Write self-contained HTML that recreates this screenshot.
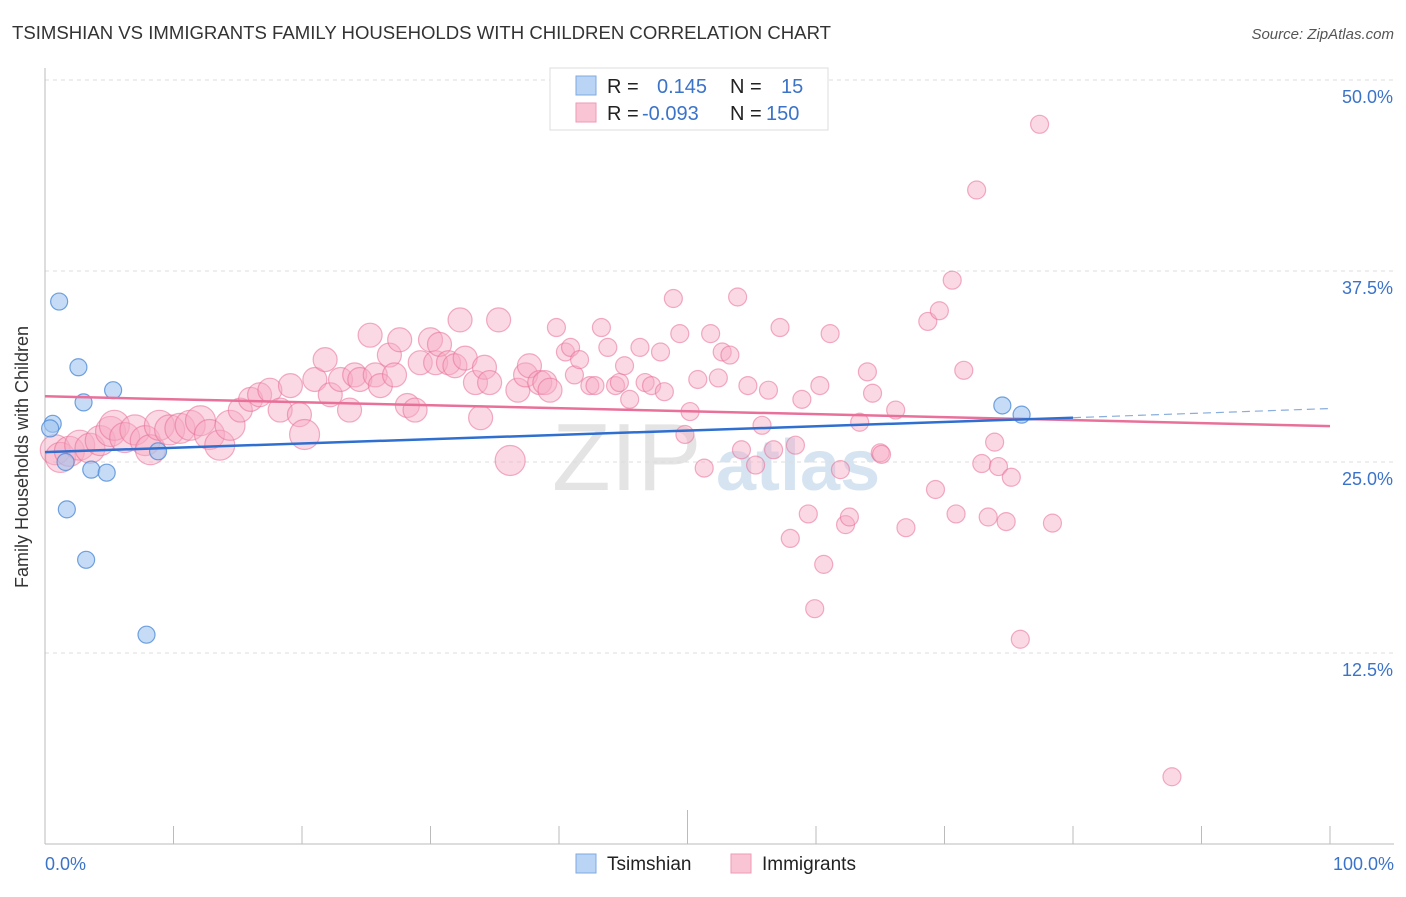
<!DOCTYPE html>
<html><head><meta charset="utf-8"><style>
body{margin:0;background:#fff;font-family:"Liberation Sans",sans-serif}
svg text{font-family:"Liberation Sans",sans-serif}
</style></head><body>
<svg id="c" width="1406" height="892" xmlns="http://www.w3.org/2000/svg">
<text x="12" y="39" font-size="18" fill="#333" textLength="819" lengthAdjust="spacingAndGlyphs">TSIMSHIAN VS IMMIGRANTS FAMILY HOUSEHOLDS WITH CHILDREN CORRELATION CHART</text>
<text x="1394" y="39" font-size="15" fill="#555" font-style="italic" text-anchor="end">Source: ZipAtlas.com</text>
<g>
<text x="552" y="490" font-size="96" fill="#e4e4e4" font-family="Liberation Serif,serif">ZIP</text>
<text x="716" y="490" font-size="72" fill="#d6e4f2" font-weight="bold">atlas</text>
</g>
<g id="grid"></g><g id="axes"></g><g id="pink"></g><g id="blue"></g><g id="lines"></g>
<text x="28" y="457" font-size="18" fill="#333" text-anchor="middle" transform="rotate(-90 28 457)">Family Households with Children</text>
<text x="45" y="870" font-size="18" fill="#3b73c9">0.0%</text>
<text x="1394" y="870" font-size="18" fill="#3b73c9" text-anchor="end">100.0%</text>
<g>
<rect x="550" y="68" width="278" height="62" fill="#fff" stroke="#ddd"/>
<rect x="576" y="76" width="20" height="19" fill="#b9d4f5" stroke="#7fa9e0"/>
<rect x="576" y="103" width="20" height="19" fill="#f9c5d5" stroke="#ee9ab5"/>
<text x="607" y="93" font-size="20" fill="#222">R = <tspan fill="#3b73c9" x="657">0.145</tspan><tspan x="730" fill="#222">N = </tspan><tspan fill="#3b73c9" x="781">15</tspan></text>
<text x="607" y="120" font-size="20" fill="#222">R = <tspan fill="#3b73c9" x="642">-0.093</tspan><tspan x="730" fill="#222">N = </tspan><tspan fill="#3b73c9" x="766">150</tspan></text>
</g>
<g>
<rect x="576" y="854" width="20" height="19" fill="#b9d4f5" stroke="#7fa9e0"/>
<text x="607" y="870" font-size="19" fill="#222">Tsimshian</text>
<rect x="731" y="854" width="20" height="19" fill="#f9c5d5" stroke="#ee9ab5"/>
<text x="762" y="870" font-size="19" fill="#222">Immigrants</text>
</g>
</svg>
<script>
const yTicks=[12.5,25,37.5,50];
const yTickLabels=["12.5%","25.0%","37.5%","50.0%"];
const xTicks=[0,10,20,30,40,50,60,70,80,90,100];
const blueX=[1.1,2.6,5.3,3.0,0.6,0.4,1.6,3.6,4.8,1.7,3.2,7.9,8.8,74.5,76.0];
const blueY=[35.5,31.2,29.7,28.9,27.5,27.2,25.0,24.5,24.3,21.9,18.6,13.7,25.7,28.7,28.1];
const pinkX=[0.8,1.2,1.9,2.7,3.5,4.3,5.1,5.4,6.2,7.0,7.8,8.2,8.9,9.7,10.5,11.3,12.1,12.8,13.6,14.4,15.2,16.0,16.7,17.5,18.3,19.1,19.8,20.2,21.0,21.8,22.2,23.0,23.7,24.1,24.5,25.3,25.7,26.1,26.8,27.2,27.6,28.2,28.8,29.2,30.0,30.4,30.7,31.4,31.9,32.3,32.7,33.5,33.9,34.2,34.6,35.3,36.2,36.8,37.4,37.7,38.5,38.9,39.3,39.8,40.5,40.9,41.2,41.6,42.4,42.8,43.3,43.8,44.4,44.7,45.1,45.5,46.3,46.7,47.2,47.9,48.2,48.9,49.4,49.8,50.2,50.8,51.3,51.8,52.4,52.7,53.3,53.9,54.2,54.7,55.3,55.8,56.3,56.7,57.2,58.0,58.4,58.9,59.4,59.9,60.3,60.6,61.1,61.9,62.3,62.6,63.4,64.0,64.4,65.0,65.1,66.2,67.0,68.7,69.3,69.6,70.6,70.9,71.5,72.5,72.9,73.4,73.9,74.2,74.8,75.2,75.9,77.4,78.4,87.7];
const pinkY=[25.8,25.3,25.7,26.1,25.9,26.4,27.0,27.4,26.6,27.1,26.4,25.8,27.4,27.1,27.2,27.4,27.7,26.8,26.1,27.4,28.4,29.1,29.4,29.7,28.4,30.0,28.1,26.8,30.4,31.7,29.4,30.4,28.4,30.7,30.4,33.3,30.7,30.0,32.0,30.7,33.0,28.7,28.4,31.5,33.0,31.5,32.7,31.5,31.3,34.3,31.8,30.2,27.9,31.2,30.2,34.3,25.1,29.7,30.7,31.3,30.2,30.2,29.7,33.8,32.2,32.5,30.7,31.7,30.0,30.0,33.8,32.5,30.0,30.2,31.3,29.1,32.5,30.2,30.0,32.2,29.6,35.7,33.4,26.8,28.3,30.4,24.6,33.4,30.5,32.2,32.0,35.8,25.8,30.0,24.8,27.4,29.7,25.8,33.8,20.0,26.1,29.1,21.6,15.4,30.0,18.3,33.4,24.5,20.9,21.4,27.6,30.9,29.5,25.6,25.5,28.4,20.7,34.2,23.2,34.9,36.9,21.6,31.0,42.8,24.9,21.4,26.3,24.7,21.1,24.0,13.4,47.1,21.0,4.4];
const pinkSize=[3,3,3,3,3,3,3,3,3,3,3,3,3,3,3,3,3,3,3,3,2,2,2,2,2,2,2,3,2,2,2,2,2,2,2,2,2,2,2,2,2,2,2,2,2,2,2,2,2,2,2,2,2,2,2,2,3,2,2,2,2,2,2,1,1,1,1,1,1,1,1,1,1,1,1,1,1,1,1,1,1,1,1,1,1,1,1,1,1,1,1,1,1,1,1,1,1,1,1,1,1,1,1,1,1,1,1,1,1,1,1,1,1,1,1,1,1,1,1,1,1,1,1,1,1,1,1,1,1,1,1,1,1,1];
const blueTrend=[[0,25.65],[80,27.9]], blueTrendExt=[[80,27.9],[100,28.5]];
const pinkTrend=[[0,29.3],[100,27.35]];
const X=v=>45+v*12.85, Y=v=>844-v*15.28;
const NS='http://www.w3.org/2000/svg';
function mk(p,t,a){const e=document.createElementNS(NS,t);for(const k in a)e.setAttribute(k,a[k]);p.appendChild(e);return e;}
const grid=document.getElementById('grid'),axes=document.getElementById('axes');
yTicks.forEach((t,i)=>{
 const l=mk(grid,'line',{x1:45,x2:1394,y1:Y(t),y2:Y(t),stroke:'#ddd','stroke-dasharray':'4 4'});
 
 
 const tx=mk(grid,'text',{x:1393,y:Y(t)+23,'font-size':18,fill:'#3b73c9','text-anchor':'end'});
 tx.textContent=yTickLabels[i];
 
 
});
const ya=mk(axes,'line',{x1:45,x2:45,y1:68,y2:844,stroke:'#bbb'});


const xa=mk(axes,'line',{x1:45,x2:1394,y1:844,y2:844,stroke:'#bbb'});


xTicks.forEach(t=>{
 const l=mk(axes,'line',{x1:X(t),x2:X(t),y1:t===50?810:826,y2:844,stroke:'#bbb'});
 
 
});
const pg=document.getElementById('pink');
pinkX.forEach((x,i)=>{
 const r=[0,9,12,15][pinkSize[i]];
 const c=mk(pg,'circle',{cx:X(x),cy:Y(pinkY[i]),r:r,fill:'rgba(246,170,195,0.45)',stroke:'rgba(232,110,150,0.55)','stroke-width':1.2});
 
 
});
const bg=document.getElementById('blue');
blueX.forEach((x,i)=>{
 const c=mk(bg,'circle',{cx:X(x),cy:Y(blueY[i]),r:8.5,fill:'rgba(160,196,240,0.6)',stroke:'rgba(80,140,215,0.8)','stroke-width':1.2});
 
 
});
const lg=document.getElementById('lines');
const pl=mk(lg,'line',{x1:X(pinkTrend[0][0]),y1:Y(pinkTrend[0][1]),x2:X(pinkTrend[1][0]),y2:Y(pinkTrend[1][1]),stroke:'#e8709a','stroke-width':2.5});


const bl=mk(lg,'line',{x1:X(blueTrend[0][0]),y1:Y(blueTrend[0][1]),x2:X(blueTrend[1][0]),y2:Y(blueTrend[1][1]),stroke:'#2f6fd0','stroke-width':2.5});


const bd=mk(lg,'line',{x1:X(blueTrendExt[0][0]),y1:Y(blueTrendExt[0][1]),x2:X(blueTrendExt[1][0]),y2:Y(blueTrendExt[1][1]),stroke:'#8aaedc','stroke-width':1.2,'stroke-dasharray':'8 5'});


</script>
</body></html>
